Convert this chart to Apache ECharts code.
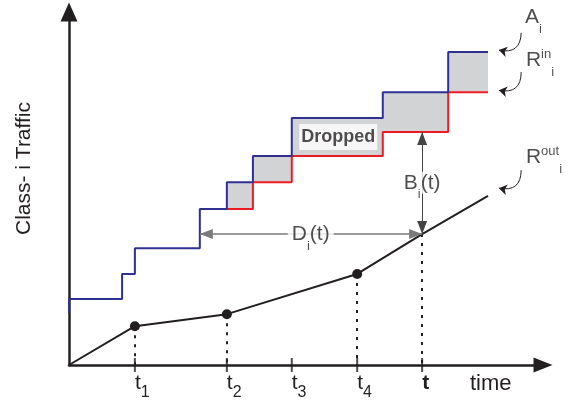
<!DOCTYPE html>
<html>
<head>
<meta charset="utf-8">
<script src="https://cdn.jsdelivr.net/npm/echarts@6/dist/echarts.min.js"></script>
<style>
  html, body { margin: 0; padding: 0; background: #fff; }
  #chart { width: 571px; height: 406px; }
</style>
</head>
<body>
<div id="chart"></div>
<script>
// arrival curve A_i (step corners)
const arrivalT = [0, 0, 11.2, 13.9, 27.6, 33.3, 38.8, 47.0, 66.2, 80.0, 88.4];
const arrivalV = [14.7, 18.7, 25.8, 33.1, 44.2, 51.8, 59.2, 70.0, 77.3, 88.7, 88.7];
// admitted curve R_in_i
const admitT = [33.3, 38.8, 47.0, 66.2, 80.0, 88.4];
const admitV = [44.2, 51.8, 59.2, 66.0, 77.3, 77.3];
// output curve R_out_i
const departT = [0, 13.9, 33.3, 60.8, 74.5, 88.4];
const departV = [0, 11.0, 14.4, 25.8, 37.1, 47.9];
const dotIdx = [1, 2, 3];
const dropIdx = [1, 2, 3, 4];
// time axis marks
const tickT = [13.9, 33.3, 47.0, 60.8, 74.5];
const tickSub = ['1', '2', '3', '4', ''];
const timeLabelT = 84.6;

// annotation anchors
const noteAt = {
    A: [96.2, 98.6],
    Rin: [96.4, 86.3],
    Rout: [96.4, 58.9],
    dropped: [56.8, 64.6],
    D: [51.0, 37.1],
    B: [74.5, 51.6]
};
// curly pointers from labels to curve ends: [from, to]
const pointers = [
    [[95.4, 94.1], [90.7, 89.2]],
    [[95.4, 83.0], [90.7, 77.8]],
    [[95.4, 55.2], [90.7, 50.1]]
];

const ink = '#231f20';
const chart = echarts.init(document.getElementById('chart'));

const pairs = (xs, ys) => xs.map((x, i) => [x, ys[i]]);

// corners of a step curve that moves right first, then up
function stepCorners(xs, ys) {
    const out = [];
    for (let i = 0; i < xs.length; i++) {
        if (i > 0) out.push([xs[i], ys[i - 1]]);
        out.push([xs[i], ys[i]]);
    }
    return out;
}

// dropped band: between A_i and R_in_i from the first admitted step on
const firstDrop = arrivalT.indexOf(admitT[0]);
const bandTop = stepCorners(arrivalT.slice(firstDrop), arrivalV.slice(firstDrop));
const bandBottom = stepCorners(admitT, admitV).reverse();

const rich = {
    b: { fontSize: 21, lineHeight: 22, color: ink },
    sup: { fontSize: 13, lineHeight: 13, color: ink, padding: [0, 0, 11, 0] },
    sub: { fontSize: 13, lineHeight: 13, color: ink, padding: [24, 0, 0, 0] },
    drop: { fontSize: 18, fontWeight: 'bold', lineHeight: 20, color: ink }
};

const arrowEnd = { symbolOffset: [0, '50%'] };

const option = {
    animation: false,
    textStyle: { fontFamily: 'Liberation Sans, Arial, sans-serif' },
    grid: { left: 69, right: 28, top: 12, bottom: 41, containLabel: false, outerBoundsMode: 'none' },
    xAxis: {
        type: 'value',
        min: 0,
        max: 100,
        axisLine: {
            symbol: ['none', 'triangle'],
            symbolSize: [15, 19],
            lineStyle: { color: ink, width: 2.5 }
        },
        axisTick: { show: false },
        splitLine: { show: false },
        axisLabel: {
            customValues: tickT.concat([timeLabelT]),
            align: 'left',
            margin: 1,
            formatter: function (v) {
                if (Math.abs(v - timeLabelT) < 1e-6) return '{time|time}';
                let i = 0;
                tickT.forEach((t, k) => { if (Math.abs(t - v) < Math.abs(tickT[i] - v)) i = k; });
                return tickSub[i] ? '{t|t}{s|' + tickSub[i] + '}' : '{tb|t}';
            },
            rich: {
                t: { fontSize: 21, lineHeight: 35, color: ink },
                tb: { fontSize: 21, lineHeight: 35, fontWeight: 'bold', color: ink },
                s: { fontSize: 16, lineHeight: 16, color: ink, padding: [19, 0, 0, 0] },
                time: { fontSize: 22, lineHeight: 22, color: ink, padding: [14, 0, 0, 0] }
            }
        }
    },
    yAxis: {
        type: 'value',
        min: 0,
        max: 100,
        name: 'Class- i Traffic',
        nameLocation: 'middle',
        nameRotate: 90,
        nameGap: 34,
        nameTextStyle: { fontSize: 21, color: ink, padding: [0, 0, 0, 40] },
        axisLine: {
            symbol: ['none', 'triangle'],
            symbolSize: [17, 19],
            lineStyle: { color: ink, width: 2.5 }
        },
        axisTick: { show: false },
        axisLabel: { show: false },
        splitLine: { show: false }
    },
    series: [
        {
            name: 'Dropped',
            type: 'custom',
            data: [0],
            silent: true,
            z: 1,
            renderItem: function (params, api) {
                const pts = bandTop.concat(bandBottom).map(p => api.coord(p));
                return {
                    type: 'polygon',
                    shape: { points: pts },
                    style: { fill: '#d1d3d4', stroke: null }
                };
            }
        },
        {
            name: 'R_in',
            type: 'line',
            step: 'end',
            data: pairs(admitT, admitV),
            symbol: 'none',
            clip: false,
            lineStyle: { color: '#ed1c24', width: 2 },
            z: 3
        },
        {
            name: 'A',
            type: 'line',
            step: 'end',
            data: pairs(arrivalT, arrivalV),
            symbol: 'none',
            clip: false,
            lineStyle: { color: '#2e3192', width: 2 },
            z: 4
        },
        {
            name: 'R_out',
            type: 'line',
            data: departT.map((t, i) => ({
                value: [t, departV[i]],
                symbol: dotIdx.indexOf(i) >= 0 ? 'circle' : 'none'
            })),
            showSymbol: true,
            symbolSize: 10,
            clip: false,
            itemStyle: { color: ink },
            lineStyle: { color: ink, width: 2 },
            z: 4,
            markLine: {
                silent: true,
                animation: false,
                symbol: 'none',
                label: { show: false },
                lineStyle: { type: [3, 6], color: ink, width: 2 },
                data: dropIdx.map(i => [
                    { coord: [departT[i], departV[i]] },
                    { coord: [departT[i], 0] }
                ])
            }
        },
        {
            name: 'ticks',
            type: 'scatter',
            data: tickT.map(t => [t, 0]),
            symbol: 'rect',
            symbolSize: [2, 14],
            clip: false,
            silent: true,
            itemStyle: { color: ink },
            z: 3,
            markLine: {
                silent: true,
                animation: false,
                label: { show: false },
                symbol: ['triangle', 'triangle'],
                symbolSize: [10, 13],
                data: [
                    [Object.assign({ coord: [arrivalT[4], departV[4]], lineStyle: { color: '#7a7a7a', width: 1.5, type: 'solid' } }, arrowEnd),
                     Object.assign({ coord: [departT[4], departV[4]] }, arrowEnd)],
                    [Object.assign({ coord: [departT[4], admitV[3]], lineStyle: { color: '#444', width: 1, type: 'solid' } }, arrowEnd),
                     Object.assign({ coord: [departT[4], departV[4]] }, arrowEnd)]
                ]
            }
        },
        {
            name: 'pointers',
            type: 'lines',
            coordinateSystem: 'cartesian2d',
            silent: true,
            z: 5,
            symbol: ['none', 'arrow'],
            symbolSize: [7, 8],
            lineStyle: { color: ink, width: 1, opacity: 1, curveness: 0.6 },
            data: pointers.map(p => ({ coords: p }))
        },
        {
            name: 'notes',
            type: 'scatter',
            symbol: 'circle',
            symbolSize: 0,
            clip: false,
            silent: true,
            z: 6,
            label: { show: true, rich: rich, color: ink },
            data: [
                { value: noteAt.A, label: { position: 'right', distance: 0, formatter: '{b|A}{sub|i}' } },
                { value: noteAt.Rin, label: { position: 'right', distance: 0, formatter: '{b|R}{sup|in}{sub|i}' } },
                { value: noteAt.Rout, label: { position: 'right', distance: 0, formatter: '{b|R}{sup|out}{sub|i}' } },
                { value: noteAt.dropped, label: { position: 'inside', formatter: '{drop|Dropped}', backgroundColor: '#fff', padding: [3, 2] } },
                { value: noteAt.D, label: { position: 'inside', formatter: '{b|D}{sub|i}{b|(t)}', backgroundColor: '#fff', padding: [0, 4] } },
                { value: noteAt.B, label: { position: 'inside', formatter: '{b|B}{sub|i}{b|(t)}', backgroundColor: '#fff', padding: [0, 0] } }
            ]
        }
    ]
};

chart.setOption(option);

window.addEventListener('resize', function () {
    chart.resize();
});
</script>
</body>
</html>
